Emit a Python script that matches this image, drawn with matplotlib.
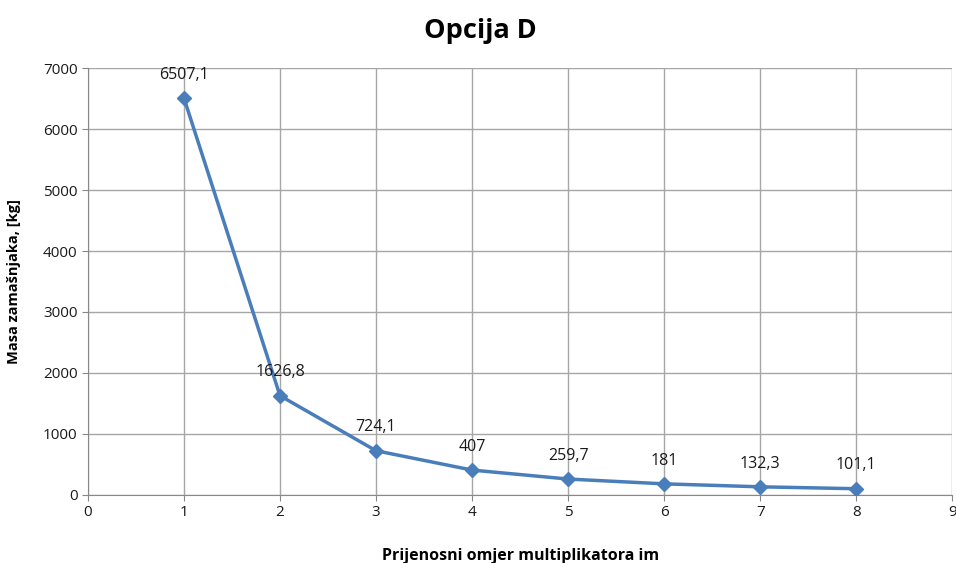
import numpy as np
import matplotlib.pyplot as plt

plt.rcParams['font.family'] = ['Open Sans', 'DejaVu Sans']

im = [1, 2, 3, 4, 5, 6, 7, 8]
masa = [6507.1, 1626.8, 724.1, 407, 259.7, 181, 132.3, 101.1]
labels = ['6507,1', '1626,8', '724,1', '407', '259,7', '181', '132,3', '101,1']

fig = plt.figure(figsize=(9.56, 5.63), dpi=100)
ax = fig.add_axes([0.092, 0.121, 0.904, 0.758])

ax.plot(im, masa, color='#4a7ebb', lw=2.5, marker='D', ms=7, zorder=3)
for x, y, t in zip(im, masa, labels):
    ax.annotate(t, (x, y), xytext=(0, 11), textcoords='offset points',
                ha='center', va='bottom', fontsize=11.5, color='#1a1a1a')

ax.set_xlim(0, 9)
ax.set_ylim(0, 7000)
ax.set_xticks(range(0, 10))
ax.set_yticks(range(0, 7001, 1000))
ax.grid(True, color='#a6a6a6', lw=1)
ax.set_axisbelow(True)
for s in ['top', 'right']:
    ax.spines[s].set_visible(False)
for s in ['left', 'bottom']:
    ax.spines[s].set_color('#888888')
ax.tick_params(colors='#888888', labelcolor='#1a1a1a', labelsize=11, length=4)

fig.suptitle('Opcija D', x=0.503, y=0.968, fontsize=19.5, fontweight='bold')
ax.set_ylabel('Masa zamašnjaka, [kg]', fontsize=10.5, fontweight='bold')
ax.yaxis.set_label_coords(-0.078, 0.5)
ax.set_xlabel('Prijenosni omjer multiplikatora im', fontsize=11.5, fontweight='bold', labelpad=20)

fig.savefig('out.png', dpi=100)
